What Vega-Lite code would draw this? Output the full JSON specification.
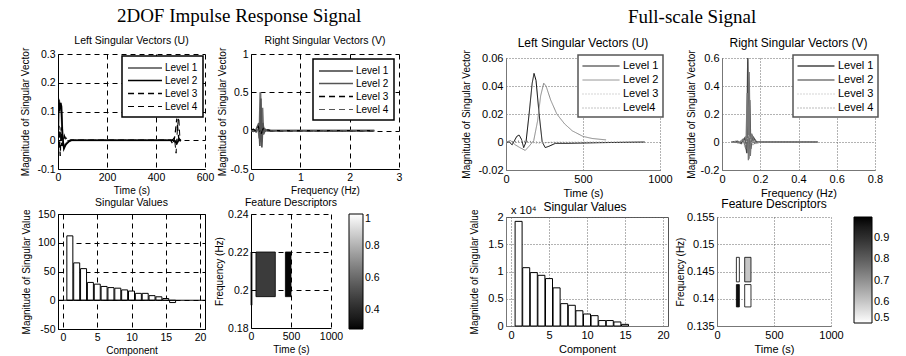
{
  "$schema": "https://vega.github.io/schema/vega-lite/v6.json",
  "background": "white",
  "padding": {"left": 20, "top": 6, "right": 0, "bottom": 0},
  "config": {
    "font": "Liberation Sans",
    "view": {"stroke": null},
    "axis": {"labelFont": "Liberation Sans", "labelFontSize": 10.5, "labelColor": "#000", "titleFont": "Liberation Sans", "titleFontSize": 10, "titleFontWeight": "normal", "titleColor": "#000", "domainColor": "#000", "gridColor": "#000", "gridDash": [5, 4], "gridOpacity": 1, "ticks": false, "labelPadding": 3, "titlePadding": 3, "labelFlush": false, "labelOverlap": false},
    "title": {"font": "Liberation Sans", "fontSize": 10.5, "fontWeight": "normal", "color": "#000", "offset": 1},
    "legend": {"labelFont": "Liberation Sans", "labelFontSize": 10, "labelColor": "#000", "strokeWidth": 1.5}
  },
  "datasets": {
    "u1": [
      {"t": 0, "v": 0, "level": "Level 1"}, {"t": 2, "v": 0.13, "level": "Level 1"}, {"t": 5, "v": 0.135, "level": "Level 1"}, {"t": 8, "v": 0.118, "level": "Level 1"}, {"t": 12, "v": 0.13, "level": "Level 1"}, {"t": 16, "v": 0.06, "level": "Level 1"}, {"t": 20, "v": -0.01, "level": "Level 1"}, {"t": 26, "v": -0.02, "level": "Level 1"}, {"t": 35, "v": -0.01, "level": "Level 1"}, {"t": 45, "v": -0.002, "level": "Level 1"}, {"t": 55, "v": 0, "level": "Level 1"}, {"t": 470, "v": 0, "level": "Level 1"}, {"t": 480, "v": -0.006, "level": "Level 1"}, {"t": 490, "v": 0.002, "level": "Level 1"}, {"t": 500, "v": 0, "level": "Level 1"},
      {"t": 0, "v": 0, "level": "Level 2"}, {"t": 3, "v": 0.14, "level": "Level 2"}, {"t": 6, "v": 0.1, "level": "Level 2"}, {"t": 10, "v": 0.13, "level": "Level 2"}, {"t": 14, "v": 0.118, "level": "Level 2"}, {"t": 18, "v": 0.02, "level": "Level 2"}, {"t": 24, "v": -0.03, "level": "Level 2"}, {"t": 32, "v": -0.015, "level": "Level 2"}, {"t": 45, "v": -0.004, "level": "Level 2"}, {"t": 55, "v": 0, "level": "Level 2"}, {"t": 475, "v": 0, "level": "Level 2"}, {"t": 485, "v": -0.012, "level": "Level 2"}, {"t": 495, "v": 0.004, "level": "Level 2"}, {"t": 500, "v": 0, "level": "Level 2"},
      {"t": 0, "v": 0, "level": "Level 3"}, {"t": 4, "v": 0.05, "level": "Level 3"}, {"t": 9, "v": -0.055, "level": "Level 3"}, {"t": 13, "v": 0.045, "level": "Level 3"}, {"t": 18, "v": -0.02, "level": "Level 3"}, {"t": 26, "v": 0.015, "level": "Level 3"}, {"t": 32, "v": 0, "level": "Level 3"}, {"t": 40, "v": -0.005, "level": "Level 3"}, {"t": 50, "v": 0, "level": "Level 3"}, {"t": 460, "v": 0, "level": "Level 3"}, {"t": 470, "v": -0.015, "level": "Level 3"}, {"t": 478, "v": 0.02, "level": "Level 3"}, {"t": 485, "v": 0.075, "level": "Level 3"}, {"t": 490, "v": 0.03, "level": "Level 3"}, {"t": 495, "v": -0.01, "level": "Level 3"}, {"t": 500, "v": 0, "level": "Level 3"},
      {"t": 0, "v": 0, "level": "Level 4"}, {"t": 5, "v": -0.03, "level": "Level 4"}, {"t": 10, "v": 0.035, "level": "Level 4"}, {"t": 15, "v": -0.02, "level": "Level 4"}, {"t": 22, "v": 0.005, "level": "Level 4"}, {"t": 30, "v": 0.012, "level": "Level 4"}, {"t": 40, "v": 0, "level": "Level 4"}, {"t": 465, "v": 0, "level": "Level 4"}, {"t": 475, "v": 0.01, "level": "Level 4"}, {"t": 482, "v": -0.045, "level": "Level 4"}, {"t": 488, "v": 0.05, "level": "Level 4"}, {"t": 493, "v": 0.08, "level": "Level 4"}, {"t": 498, "v": 0, "level": "Level 4"}, {"t": 503, "v": 0, "level": "Level 4"}
    ],
    "v1": [
      {"f": 0, "v": 0, "level": "Level 1"}, {"f": 0.05, "v": 0.01, "level": "Level 1"}, {"f": 0.1, "v": -0.01, "level": "Level 1"}, {"f": 0.15, "v": 0.02, "level": "Level 1"}, {"f": 0.17, "v": -0.1, "level": "Level 1"}, {"f": 0.19, "v": 0.5, "level": "Level 1"}, {"f": 0.21, "v": -0.15, "level": "Level 1"}, {"f": 0.23, "v": 0.3, "level": "Level 1"}, {"f": 0.25, "v": -0.05, "level": "Level 1"}, {"f": 0.28, "v": 0.02, "level": "Level 1"}, {"f": 0.32, "v": 0, "level": "Level 1"}, {"f": 2.5, "v": 0, "level": "Level 1"},
      {"f": 0, "v": 0, "level": "Level 2"}, {"f": 0.05, "v": -0.01, "level": "Level 2"}, {"f": 0.1, "v": 0.01, "level": "Level 2"}, {"f": 0.16, "v": 0.1, "level": "Level 2"}, {"f": 0.18, "v": -0.2, "level": "Level 2"}, {"f": 0.2, "v": 0.42, "level": "Level 2"}, {"f": 0.22, "v": -0.22, "level": "Level 2"}, {"f": 0.24, "v": 0.1, "level": "Level 2"}, {"f": 0.27, "v": -0.02, "level": "Level 2"}, {"f": 0.3, "v": 0.01, "level": "Level 2"}, {"f": 0.35, "v": 0, "level": "Level 2"}, {"f": 2.5, "v": 0, "level": "Level 2"},
      {"f": 0, "v": 0.01, "level": "Level 3"}, {"f": 0.05, "v": 0.02, "level": "Level 3"}, {"f": 0.1, "v": -0.01, "level": "Level 3"}, {"f": 0.15, "v": 0.05, "level": "Level 3"}, {"f": 0.2, "v": -0.05, "level": "Level 3"}, {"f": 0.25, "v": 0.03, "level": "Level 3"}, {"f": 0.3, "v": 0.01, "level": "Level 3"}, {"f": 0.35, "v": 0.01, "level": "Level 3"}, {"f": 0.4, "v": 0, "level": "Level 3"}, {"f": 2.5, "v": 0, "level": "Level 3"},
      {"f": 0, "v": 0, "level": "Level 4"}, {"f": 0.08, "v": -0.01, "level": "Level 4"}, {"f": 0.15, "v": -0.03, "level": "Level 4"}, {"f": 0.2, "v": 0.06, "level": "Level 4"}, {"f": 0.25, "v": -0.02, "level": "Level 4"}, {"f": 0.3, "v": 0.02, "level": "Level 4"}, {"f": 0.4, "v": 0, "level": "Level 4"}, {"f": 2.5, "v": 0, "level": "Level 4"}
    ],
    "sv1": [
      {"component": 1, "value": 112}, {"component": 2, "value": 65}, {"component": 3, "value": 55}, {"component": 4, "value": 31}, {"component": 5, "value": 28}, {"component": 6, "value": 24}, {"component": 7, "value": 22}, {"component": 8, "value": 21}, {"component": 9, "value": 18}, {"component": 10, "value": 16}, {"component": 11, "value": 12}, {"component": 12, "value": 12}, {"component": 13, "value": 8}, {"component": 14, "value": 6}, {"component": 15, "value": 3}, {"component": 16, "value": -4}
    ],
    "fd1": [
      {"t1": 0, "t2": 12, "f1": 0.192, "f2": 0.22, "val": 0.29},
      {"t1": 62, "t2": 304, "f1": 0.1965, "f2": 0.22, "val": 0.46},
      {"t1": 430, "t2": 500, "f1": 0.1965, "f2": 0.22, "val": 0.29}
    ],
    "u2": [
      {"t": 0, "v": 0, "level": "Level 1"}, {"t": 20, "v": 0, "level": "Level 1"}, {"t": 40, "v": -0.002, "level": "Level 1"}, {"t": 70, "v": 0.004, "level": "Level 1"}, {"t": 85, "v": 0.005, "level": "Level 1"}, {"t": 100, "v": 0.002, "level": "Level 1"}, {"t": 115, "v": -0.004, "level": "Level 1"}, {"t": 130, "v": 0, "level": "Level 1"}, {"t": 150, "v": 0.02, "level": "Level 1"}, {"t": 170, "v": 0.042, "level": "Level 1"}, {"t": 182, "v": 0.049, "level": "Level 1"}, {"t": 195, "v": 0.044, "level": "Level 1"}, {"t": 215, "v": 0.02, "level": "Level 1"}, {"t": 235, "v": 0, "level": "Level 1"}, {"t": 255, "v": -0.004, "level": "Level 1"}, {"t": 280, "v": -0.003, "level": "Level 1"}, {"t": 320, "v": -0.001, "level": "Level 1"}, {"t": 400, "v": -0.001, "level": "Level 1"}, {"t": 600, "v": -0.0005, "level": "Level 1"}, {"t": 900, "v": 0, "level": "Level 1"},
      {"t": 0, "v": 0, "level": "Level 2"}, {"t": 30, "v": 0.001, "level": "Level 2"}, {"t": 60, "v": -0.002, "level": "Level 2"}, {"t": 90, "v": -0.004, "level": "Level 2"}, {"t": 125, "v": -0.006, "level": "Level 2"}, {"t": 150, "v": -0.003, "level": "Level 2"}, {"t": 180, "v": 0.001, "level": "Level 2"}, {"t": 205, "v": 0.015, "level": "Level 2"}, {"t": 225, "v": 0.033, "level": "Level 2"}, {"t": 245, "v": 0.042, "level": "Level 2"}, {"t": 260, "v": 0.04, "level": "Level 2"}, {"t": 290, "v": 0.03, "level": "Level 2"}, {"t": 330, "v": 0.02, "level": "Level 2"}, {"t": 380, "v": 0.013, "level": "Level 2"}, {"t": 430, "v": 0.008, "level": "Level 2"}, {"t": 500, "v": 0.004, "level": "Level 2"}, {"t": 560, "v": 0.0025, "level": "Level 2"}, {"t": 650, "v": 0.0015, "level": "Level 2"},
      {"t": 0, "v": 0, "level": "Level 3"}, {"t": 100, "v": 0.001, "level": "Level 3"}, {"t": 200, "v": -0.001, "level": "Level 3"}, {"t": 300, "v": 0, "level": "Level 3"}, {"t": 900, "v": 0, "level": "Level 3"},
      {"t": 0, "v": 0, "level": "Level4"}, {"t": 150, "v": 0.0005, "level": "Level4"}, {"t": 250, "v": -0.0005, "level": "Level4"}, {"t": 900, "v": 0, "level": "Level4"}
    ],
    "v2": [
      {"f": 0.05, "v": 0, "level": "Level 1"}, {"f": 0.08, "v": 0.005, "level": "Level 1"}, {"f": 0.1, "v": -0.01, "level": "Level 1"}, {"f": 0.12, "v": 0.03, "level": "Level 1"}, {"f": 0.13, "v": -0.08, "level": "Level 1"}, {"f": 0.135, "v": 0.6, "level": "Level 1"}, {"f": 0.14, "v": -0.12, "level": "Level 1"}, {"f": 0.145, "v": 0.3, "level": "Level 1"}, {"f": 0.15, "v": -0.05, "level": "Level 1"}, {"f": 0.16, "v": 0.04, "level": "Level 1"}, {"f": 0.18, "v": 0, "level": "Level 1"}, {"f": 0.5, "v": 0, "level": "Level 1"},
      {"f": 0.05, "v": 0, "level": "Level 2"}, {"f": 0.09, "v": -0.005, "level": "Level 2"}, {"f": 0.11, "v": 0.02, "level": "Level 2"}, {"f": 0.125, "v": -0.05, "level": "Level 2"}, {"f": 0.132, "v": 0.35, "level": "Level 2"}, {"f": 0.138, "v": -0.13, "level": "Level 2"}, {"f": 0.142, "v": 0.5, "level": "Level 2"}, {"f": 0.148, "v": -0.1, "level": "Level 2"}, {"f": 0.155, "v": 0.06, "level": "Level 2"}, {"f": 0.17, "v": -0.01, "level": "Level 2"}, {"f": 0.2, "v": 0, "level": "Level 2"}, {"f": 0.5, "v": 0, "level": "Level 2"},
      {"f": 0.05, "v": 0, "level": "Level 3"}, {"f": 0.1, "v": 0.01, "level": "Level 3"}, {"f": 0.12, "v": -0.03, "level": "Level 3"}, {"f": 0.14, "v": 0.05, "level": "Level 3"}, {"f": 0.16, "v": -0.02, "level": "Level 3"}, {"f": 0.2, "v": 0, "level": "Level 3"}, {"f": 0.5, "v": 0, "level": "Level 3"},
      {"f": 0.05, "v": 0, "level": "Level 4"}, {"f": 0.1, "v": -0.01, "level": "Level 4"}, {"f": 0.13, "v": 0.04, "level": "Level 4"}, {"f": 0.15, "v": -0.04, "level": "Level 4"}, {"f": 0.17, "v": 0.01, "level": "Level 4"}, {"f": 0.2, "v": 0, "level": "Level 4"}, {"f": 0.5, "v": 0, "level": "Level 4"}
    ],
    "sv2": [
      {"component": 1, "value": 19200}, {"component": 2, "value": 10700}, {"component": 3, "value": 9800}, {"component": 4, "value": 9300}, {"component": 5, "value": 8700}, {"component": 6, "value": 7000}, {"component": 7, "value": 4100}, {"component": 8, "value": 3800}, {"component": 9, "value": 2800}, {"component": 10, "value": 2200}, {"component": 11, "value": 1900}, {"component": 12, "value": 1000}, {"component": 13, "value": 1000}, {"component": 14, "value": 740}, {"component": 15, "value": 300}
    ],
    "fd2": [
      {"t1": 170, "t2": 196, "f1": 0.1431, "f2": 0.1476, "val": 0.5},
      {"t1": 170, "t2": 196, "f1": 0.1385, "f2": 0.1426, "val": 0.98},
      {"t1": 243, "t2": 298, "f1": 0.1431, "f2": 0.1476, "val": 0.6},
      {"t1": 243, "t2": 298, "f1": 0.1385, "f2": 0.1426, "val": 0.5}
    ]
  },
  "spacing": 59,
  "resolve": {"scale": {"color": "independent", "strokeDash": "independent", "strokeWidth": "independent", "fill": "independent"}, "legend": {"color": "independent", "strokeDash": "independent", "strokeWidth": "independent", "fill": "independent"}},
  "hconcat": [
    {
      "title": {"text": "2DOF Impulse Response Signal", "font": "Liberation Serif", "fontSize": 19, "anchor": "start", "dx": 96, "offset": 10},
      "spacing": 1,
      "resolve": {"scale": {"color": "independent", "strokeDash": "independent", "strokeWidth": "independent", "fill": "independent"}, "legend": {"color": "independent", "strokeDash": "independent", "strokeWidth": "independent", "fill": "independent"}},
      "vconcat": [
        {
          "bounds": "flush",
          "spacing": 46,
          "resolve": {"scale": {"color": "independent", "strokeDash": "independent", "strokeWidth": "independent", "fill": "independent"}, "legend": {"color": "independent", "strokeDash": "independent", "strokeWidth": "independent", "fill": "independent"}},
          "hconcat": [
            {
              "title": "Left Singular Vectors (U)",
              "width": 147, "height": 115,
              "data": {"name": "u1"},
              "mark": {"type": "line", "clip": true},
              "encoding": {
                "x": {"field": "t", "type": "quantitative", "scale": {"domain": [0, 600], "nice": false}, "axis": {"title": "Time (s)", "values": [0, 200, 400, 600], "labelExpr": "toString(datum.value)"}},
                "y": {"field": "v", "type": "quantitative", "scale": {"domain": [-0.1, 0.3], "nice": false, "zero": false}, "axis": {"title": "Magnitude of Singular Vector", "values": [-0.1, 0, 0.1, 0.2, 0.3], "labelExpr": "toString(datum.value)", "titlePadding": 6}},
                "color": {"field": "level", "type": "ordinal", "scale": {"domain": ["Level 1", "Level 2", "Level 3", "Level 4"], "range": ["#7a7a7a", "#000000", "#000000", "#000000"]}, "legend": {"title": null, "orient": "top-right", "offset": 2, "symbolType": "M-3,0H3", "symbolSize": 128, "symbolOffset": 11, "labelOffset": 13, "strokeColor": "#000", "fillColor": "#fff", "padding": 5, "rowPadding": 1}},
                "strokeDash": {"field": "level", "type": "ordinal", "scale": {"domain": ["Level 1", "Level 2", "Level 3", "Level 4"], "range": [[1, 0], [1, 0], [6, 4], [6, 4]]}, "legend": {"title": null, "orient": "top-right", "offset": 2, "symbolType": "M-3,0H3", "symbolSize": 128, "symbolOffset": 11, "labelOffset": 13, "strokeColor": "#000", "fillColor": "#fff", "padding": 5, "rowPadding": 1}},
                "strokeWidth": {"field": "level", "type": "ordinal", "scale": {"domain": ["Level 1", "Level 2", "Level 3", "Level 4"], "range": [2, 1, 1, 1]}, "legend": {"title": null, "orient": "top-right", "offset": 2, "symbolType": "M-3,0H3", "symbolSize": 128, "symbolOffset": 11, "labelOffset": 13, "strokeColor": "#000", "fillColor": "#fff", "padding": 5, "rowPadding": 1}}
              }
            },
            {
              "title": "Right Singular Vectors (V)",
              "width": 148, "height": 115,
              "data": {"name": "v1"},
              "mark": {"type": "line", "clip": true},
              "encoding": {
                "x": {"field": "f", "type": "quantitative", "scale": {"domain": [0, 3], "nice": false}, "axis": {"title": "Frequency (Hz)", "values": [0, 1, 2, 3], "labelExpr": "toString(datum.value)"}},
                "y": {"field": "v", "type": "quantitative", "scale": {"domain": [-0.5, 1], "nice": false, "zero": false}, "axis": {"title": "Magnitude of Singular Vector", "values": [-0.5, 0, 0.5, 1], "labelExpr": "toString(datum.value)", "titlePadding": 2}},
                "color": {"field": "level", "type": "ordinal", "scale": {"domain": ["Level 1", "Level 2", "Level 3", "Level 4"], "range": ["#6e6e6e", "#555555", "#000000", "#555555"]}, "legend": {"title": null, "orient": "top-right", "offset": 5, "symbolType": "M-3,0H3", "symbolSize": 128, "symbolOffset": 11, "labelOffset": 13, "strokeColor": "#000", "fillColor": "#fff", "padding": 5, "rowPadding": 1}},
                "strokeDash": {"field": "level", "type": "ordinal", "scale": {"domain": ["Level 1", "Level 2", "Level 3", "Level 4"], "range": [[1, 0], [1, 0], [6, 4], [6, 4]]}, "legend": {"title": null, "orient": "top-right", "offset": 5, "symbolType": "M-3,0H3", "symbolSize": 128, "symbolOffset": 11, "labelOffset": 13, "strokeColor": "#000", "fillColor": "#fff", "padding": 5, "rowPadding": 1}},
                "strokeWidth": {"field": "level", "type": "ordinal", "scale": {"domain": ["Level 1", "Level 2", "Level 3", "Level 4"], "range": [2, 1, 1, 1]}, "legend": {"title": null, "orient": "top-right", "offset": 5, "symbolType": "M-3,0H3", "symbolSize": 128, "symbolOffset": 11, "labelOffset": 13, "strokeColor": "#000", "fillColor": "#fff", "padding": 5, "rowPadding": 1}}
              }
            }
          ]
        },
        {
          "bounds": "flush",
          "spacing": 46,
          "resolve": {"scale": {"color": "independent", "strokeDash": "independent", "strokeWidth": "independent", "fill": "independent"}, "legend": {"color": "independent", "strokeDash": "independent", "strokeWidth": "independent", "fill": "independent"}},
          "hconcat": [
            {
              "title": {"text": "Singular Values", "offset": 1},
              "width": 147, "height": 115,
              "view": {"stroke": "#000"},
              "layer": [
                {
                  "data": {"name": "sv1"},
                  "mark": {"type": "bar", "size": 6, "fill": "#fff", "stroke": "#000", "strokeWidth": 1, "orient": "vertical"},
                  "encoding": {
                    "x": {"field": "component", "type": "quantitative", "scale": {"domain": [0, 20], "nice": false}, "axis": {"title": "Component", "values": [0, 5, 10, 15, 20], "labelExpr": "toString(datum.value)", "labelOverlap": false}},
                    "y": {"field": "value", "type": "quantitative", "scale": {"domain": [-50, 150], "nice": false}, "axis": {"title": "Magnitude of Singular Value", "values": [-50, 0, 50, 100, 150], "labelExpr": "toString(datum.value)", "titlePadding": 6, "labelOverlap": false}}
                  }
                },
                {
                  "data": {"values": [{"value": 0}]},
                  "mark": {"type": "rule", "color": "#000", "strokeWidth": 1},
                  "encoding": {"y": {"field": "value", "type": "quantitative", "scale": {"domain": [-50, 150], "nice": false}, "axis": {"title": "Magnitude of Singular Value", "values": [-50, 0, 50, 100, 150], "labelExpr": "toString(datum.value)", "titlePadding": 6, "labelOverlap": false}}}
                }
              ]
            },
            {
              "title": {"text": "Feature Descriptors", "offset": 1},
              "width": 80, "height": 114,
              "data": {"name": "fd1"},
              "mark": {"type": "rect", "stroke": "#000", "strokeWidth": 0.8},
              "encoding": {
                "x": {"field": "t1", "type": "quantitative", "scale": {"domain": [0, 1000], "nice": false}, "axis": {"title": "Time (s)", "values": [0, 500, 1000], "labelExpr": "toString(datum.value)"}},
                "x2": {"field": "t2"},
                "y": {"field": "f1", "type": "quantitative", "scale": {"domain": [0.18, 0.24], "nice": false, "zero": false}, "axis": {"title": "Frequency (Hz)", "values": [0.18, 0.2, 0.22, 0.24], "labelExpr": "toString(datum.value)", "titlePadding": 3}},
                "y2": {"field": "f2"},
                "fill": {"field": "val", "type": "quantitative", "scale": {"domain": [0.28, 1], "range": ["#000000", "#ffffff"]}, "legend": {"title": null, "orient": "right", "offset": 18, "direction": "vertical", "gradientLength": 115, "gradientThickness": 14, "values": [0.4, 0.6, 0.8, 1], "gradientStrokeColor": "#000", "gradientStrokeWidth": 1, "labelFontSize": 10.5, "labelExpr": "toString(datum.value)"}}
              }
            }
          ]
        }
      ]
    },
    {
      "title": {"text": "Full-scale Signal", "font": "Liberation Serif", "fontSize": 19, "anchor": "start", "dx": 166, "offset": 10},
      "spacing": -19,
      "resolve": {"scale": {"color": "independent", "strokeDash": "independent", "strokeWidth": "independent", "fill": "independent"}, "legend": {"color": "independent", "strokeDash": "independent", "strokeWidth": "independent", "fill": "independent"}},
      "vconcat": [
        {"width": 1, "height": 1, "data": {"values": []}, "mark": "point"},
        {
          "spacing": 0,
          "resolve": {"scale": {"color": "independent", "strokeDash": "independent", "strokeWidth": "independent", "fill": "independent"}, "legend": {"color": "independent", "strokeDash": "independent", "strokeWidth": "independent", "fill": "independent"}},
          "vconcat": [
            {
              "bounds": "flush",
              "spacing": 62,
              "resolve": {"scale": {"color": "independent", "strokeDash": "independent", "strokeWidth": "independent", "fill": "independent"}, "legend": {"color": "independent", "strokeDash": "independent", "strokeWidth": "independent", "fill": "independent"}},
              "hconcat": [
                {
                  "title": {"text": "Left Singular Vectors (U)", "fontSize": 12, "offset": 0},
                  "width": 154, "height": 112,
                  "data": {"name": "u2"},
                  "mark": {"type": "line", "clip": true},
                  "encoding": {
                    "x": {"field": "t", "type": "quantitative", "scale": {"domain": [0, 1000], "nice": false}, "axis": {"title": "Time (s)", "values": [0, 500, 1000], "labelExpr": "toString(datum.value)", "gridDash": [1, 2], "gridColor": "#666", "domainColor": "#777", "labelFontSize": 11, "titleFontSize": 11}},
                    "y": {"field": "v", "type": "quantitative", "scale": {"domain": [-0.02, 0.06], "nice": false, "zero": false}, "axis": {"title": "Magnitude of Singular Vector", "values": [-0.02, 0, 0.02, 0.04, 0.06], "labelExpr": "toString(datum.value)", "titlePadding": 6, "gridDash": [1, 2], "gridColor": "#666", "domainColor": "#777", "labelFontSize": 11, "titleFontSize": 10}},
                    "color": {"field": "level", "type": "ordinal", "scale": {"domain": ["Level 1", "Level 2", "Level 3", "Level4"], "range": ["#000000", "#888888", "#aaaaaa", "#888888"]}, "legend": {"title": null, "orient": "top-right", "offset": -3, "symbolType": "M-3,0H3", "symbolSize": 152, "symbolOffset": 12, "labelOffset": 15, "strokeColor": "#555", "fillColor": "#fff", "padding": 4, "rowPadding": 2, "labelFontSize": 11}},
                    "strokeDash": {"field": "level", "type": "ordinal", "scale": {"domain": ["Level 1", "Level 2", "Level 3", "Level4"], "range": [[1, 0], [1, 0], [1, 2], [1, 2]]}, "legend": {"title": null, "orient": "top-right", "offset": -3, "symbolType": "M-3,0H3", "symbolSize": 152, "symbolOffset": 12, "labelOffset": 15, "strokeColor": "#555", "fillColor": "#fff", "padding": 4, "rowPadding": 2, "labelFontSize": 11}},
                    "strokeWidth": {"field": "level", "type": "ordinal", "scale": {"domain": ["Level 1", "Level 2", "Level 3", "Level4"], "range": [1, 1, 1, 1]}, "legend": {"title": null, "orient": "top-right", "offset": -3, "symbolType": "M-3,0H3", "symbolSize": 152, "symbolOffset": 12, "labelOffset": 15, "strokeColor": "#555", "fillColor": "#fff", "padding": 4, "rowPadding": 2, "labelFontSize": 11}}
                  }
                },
                {
                  "title": {"text": "Right Singular Vectors (V)", "fontSize": 12, "offset": 0},
                  "width": 153, "height": 112,
                  "data": {"name": "v2"},
                  "mark": {"type": "line", "clip": true},
                  "encoding": {
                    "x": {"field": "f", "type": "quantitative", "scale": {"domain": [0, 0.8], "nice": false}, "axis": {"title": "Frequency (Hz)", "values": [0, 0.2, 0.4, 0.6, 0.8], "labelExpr": "toString(datum.value)", "gridDash": [1, 2], "gridColor": "#666", "domainColor": "#777", "labelFontSize": 11, "titleFontSize": 11}},
                    "y": {"field": "v", "type": "quantitative", "scale": {"domain": [-0.2, 0.6], "nice": false, "zero": false}, "axis": {"title": "Magnitude of Singular Vector", "values": [-0.2, 0, 0.2, 0.4, 0.6], "labelExpr": "toString(datum.value)", "titlePadding": 4, "gridDash": [1, 2], "gridColor": "#666", "domainColor": "#777", "labelFontSize": 11, "titleFontSize": 10}},
                    "color": {"field": "level", "type": "ordinal", "scale": {"domain": ["Level 1", "Level 2", "Level 3", "Level 4"], "range": ["#444444", "#777777", "#aaaaaa", "#777777"]}, "legend": {"title": null, "orient": "top-right", "offset": -3, "symbolType": "M-3,0H3", "symbolSize": 152, "symbolOffset": 12, "labelOffset": 15, "strokeColor": "#555", "fillColor": "#fff", "padding": 4, "rowPadding": 2, "labelFontSize": 11}},
                    "strokeDash": {"field": "level", "type": "ordinal", "scale": {"domain": ["Level 1", "Level 2", "Level 3", "Level 4"], "range": [[1, 0], [1, 0], [1, 2], [1, 2]]}, "legend": {"title": null, "orient": "top-right", "offset": -3, "symbolType": "M-3,0H3", "symbolSize": 152, "symbolOffset": 12, "labelOffset": 15, "strokeColor": "#555", "fillColor": "#fff", "padding": 4, "rowPadding": 2, "labelFontSize": 11}},
                    "strokeWidth": {"field": "level", "type": "ordinal", "scale": {"domain": ["Level 1", "Level 2", "Level 3", "Level 4"], "range": [1.5, 1, 1, 1]}, "legend": {"title": null, "orient": "top-right", "offset": -3, "symbolType": "M-3,0H3", "symbolSize": 152, "symbolOffset": 12, "labelOffset": 15, "strokeColor": "#555", "fillColor": "#fff", "padding": 4, "rowPadding": 2, "labelFontSize": 11}}
                  }
                }
              ]
            },
            {
              "bounds": "flush",
              "spacing": 49,
              "resolve": {"scale": {"color": "independent", "strokeDash": "independent", "strokeWidth": "independent", "fill": "independent"}, "legend": {"color": "independent", "strokeDash": "independent", "strokeWidth": "independent", "fill": "independent"}},
              "hconcat": [
                {
                  "width": 162, "height": 109,
                  "view": {"stroke": "#555"},
                  "layer": [
                    {
                      "data": {"name": "sv2"},
                      "mark": {"type": "bar", "size": 7, "fill": "#fff", "stroke": "#000", "strokeWidth": 1, "orient": "vertical"},
                      "encoding": {
                        "x": {"field": "component", "type": "quantitative", "scale": {"domain": [0, 20], "nice": false}, "axis": {"title": "Component", "values": [0, 5, 10, 15, 20], "labelExpr": "toString(datum.value)", "labelOverlap": false, "gridDash": [1, 2], "gridColor": "#666", "domainColor": "#777", "labelFontSize": 11, "titleFontSize": 11}},
                        "y": {"field": "value", "type": "quantitative", "scale": {"domain": [0, 20000], "nice": false}, "axis": {"title": "Magnitude of Singular Value", "values": [0, 5000, 10000, 15000, 20000], "labelExpr": "toString(datum.value / 10000)", "labelOverlap": false, "titlePadding": 8, "gridDash": [1, 2], "gridColor": "#666", "domainColor": "#777", "labelFontSize": 11, "titleFontSize": 10}}
                      }
                    },
                    {
                      "data": {"values": [{"label": "x 10⁴", "component": 0, "value": 20000}]},
                      "mark": {"type": "text", "align": "left", "baseline": "bottom", "dy": -1, "fontSize": 11, "font": "Liberation Sans"},
                      "encoding": {
                        "x": {"field": "component", "type": "quantitative", "scale": {"domain": [0, 20], "nice": false}, "axis": {"title": "Component", "values": [0, 5, 10, 15, 20], "labelExpr": "toString(datum.value)", "labelOverlap": false, "gridDash": [1, 2], "gridColor": "#666", "domainColor": "#777", "labelFontSize": 11, "titleFontSize": 11}},
                        "y": {"field": "value", "type": "quantitative", "scale": {"domain": [0, 20000], "nice": false}, "axis": {"title": "Magnitude of Singular Value", "values": [0, 5000, 10000, 15000, 20000], "labelExpr": "toString(datum.value / 10000)", "labelOverlap": false, "titlePadding": 8, "gridDash": [1, 2], "gridColor": "#666", "domainColor": "#777", "labelFontSize": 11, "titleFontSize": 10}},
                        "text": {"field": "label"}
                      }
                    },
                    {
                      "data": {"values": [{"label": "Singular Values", "component": 10, "value": 20000}]},
                      "mark": {"type": "text", "align": "center", "baseline": "bottom", "dy": -3, "dx": -2, "fontSize": 12, "font": "Liberation Sans"},
                      "encoding": {
                        "x": {"field": "component", "type": "quantitative", "scale": {"domain": [0, 20], "nice": false}, "axis": {"title": "Component", "values": [0, 5, 10, 15, 20], "labelExpr": "toString(datum.value)", "labelOverlap": false, "gridDash": [1, 2], "gridColor": "#666", "domainColor": "#777", "labelFontSize": 11, "titleFontSize": 11}},
                        "y": {"field": "value", "type": "quantitative", "scale": {"domain": [0, 20000], "nice": false}, "axis": {"title": "Magnitude of Singular Value", "values": [0, 5000, 10000, 15000, 20000], "labelExpr": "toString(datum.value / 10000)", "labelOverlap": false, "titlePadding": 8, "gridDash": [1, 2], "gridColor": "#666", "domainColor": "#777", "labelFontSize": 11, "titleFontSize": 10}},
                        "text": {"field": "label"}
                      }
                    }
                  ]
                },
                {
                  "title": {"text": "Feature Descriptors", "fontSize": 12, "offset": 0},
                  "width": 114, "height": 109,
                  "data": {"name": "fd2"},
                  "mark": {"type": "rect", "stroke": "#000", "strokeWidth": 0.8},
                  "encoding": {
                    "x": {"field": "t1", "type": "quantitative", "scale": {"domain": [0, 1000], "nice": false}, "axis": {"title": "Time (s)", "values": [0, 500, 1000], "labelExpr": "toString(datum.value)", "gridDash": [1, 2], "gridColor": "#666", "domainColor": "#777", "labelFontSize": 11, "titleFontSize": 11}},
                    "x2": {"field": "t2"},
                    "y": {"field": "f1", "type": "quantitative", "scale": {"domain": [0.135, 0.155], "nice": false, "zero": false}, "axis": {"title": "Frequency (Hz)", "values": [0.135, 0.14, 0.145, 0.15, 0.155], "labelExpr": "toString(datum.value)", "titlePadding": 1, "gridDash": [1, 2], "gridColor": "#666", "domainColor": "#777", "labelFontSize": 11, "titleFontSize": 10}},
                    "y2": {"field": "f2"},
                    "fill": {"field": "val", "type": "quantitative", "scale": {"domain": [0.5, 1.0], "range": ["#ffffff", "#000000"]}, "legend": {"title": null, "orient": "right", "offset": 23, "direction": "vertical", "gradientLength": 106, "gradientThickness": 18, "values": [0.5, 0.6, 0.7, 0.8, 0.9], "gradientStrokeColor": "#000", "gradientStrokeWidth": 1, "labelFontSize": 11, "labelExpr": "toString(datum.value)"}}
                  }
                }
              ]
            }
          ]
        }
      ]
    }
  ]
}
